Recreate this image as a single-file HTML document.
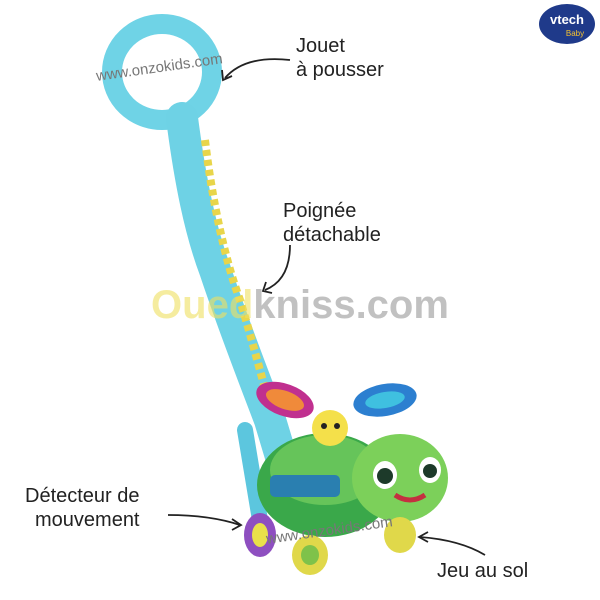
<!DOCTYPE html>
<html><head><meta charset="utf-8"><style>
body{margin:0;background:#fff;}
svg{display:block}
text{font-family:"Liberation Sans",sans-serif;}
</style></head><body>
<svg width="600" height="600" viewBox="0 0 600 600" xmlns="http://www.w3.org/2000/svg">
<rect width="600" height="600" fill="#fff"/>
<ellipse cx="162" cy="72" rx="50" ry="48" fill="none" stroke="#6fd3e6" stroke-width="20"/>
<path d="M182 118 C190 180 200 230 215 270 C235 330 255 380 270 420 L285 470" fill="none" stroke="#6ed2e5" stroke-width="32" stroke-linecap="round"/>
<path d="M205 140 C212 200 225 260 240 300 C252 340 260 370 268 400" fill="none" stroke="#e8d54a" stroke-width="8" stroke-dasharray="6 4"/>
<path d="M245 430 L260 520" stroke="#5cc6de" stroke-width="16" stroke-linecap="round"/>
<ellipse cx="285" cy="400" rx="30" ry="16" fill="#c0308f" transform="rotate(20 285 400)"/>
<ellipse cx="285" cy="400" rx="20" ry="9" fill="#f08a3a" transform="rotate(20 285 400)"/>
<ellipse cx="385" cy="400" rx="32" ry="16" fill="#2c7fd0" transform="rotate(-10 385 400)"/>
<ellipse cx="385" cy="400" rx="20" ry="8" fill="#3fc0e0" transform="rotate(-10 385 400)"/>
<ellipse cx="325" cy="485" rx="68" ry="52" fill="#3aa84a"/>
<ellipse cx="325" cy="470" rx="55" ry="35" fill="#66c45a"/>
<rect x="270" y="475" width="70" height="22" rx="5" fill="#2a7fb0"/>
<circle cx="330" cy="428" r="18" fill="#f4e04a"/>
<circle cx="324" cy="426" r="3" fill="#222"/><circle cx="337" cy="426" r="3" fill="#222"/>
<ellipse cx="400" cy="478" rx="48" ry="44" fill="#7cd05a"/>
<ellipse cx="385" cy="475" rx="12" ry="14" fill="#fff"/><circle cx="385" cy="476" r="8" fill="#1d3a2a"/>
<ellipse cx="430" cy="470" rx="11" ry="13" fill="#fff"/><circle cx="430" cy="471" r="7" fill="#1d3a2a"/>
<path d="M395 495 Q410 505 425 495" stroke="#c43040" stroke-width="5" fill="none"/>
<ellipse cx="260" cy="535" rx="16" ry="22" fill="#8e4fc0"/><ellipse cx="260" cy="535" rx="8" ry="12" fill="#e9e04a"/>
<ellipse cx="310" cy="555" rx="18" ry="20" fill="#e0d84a"/><ellipse cx="310" cy="555" rx="9" ry="10" fill="#7fc24a"/>
<ellipse cx="400" cy="535" rx="16" ry="18" fill="#e0d84a"/>
<text x="300" y="318" font-size="40" font-weight="bold" text-anchor="middle" opacity=".6"><tspan fill="#f0e060">Oued</tspan><tspan fill="#999">kniss.com</tspan></text>
<text x="160" y="72" font-size="15" fill="#777" transform="rotate(-8 160 72)" text-anchor="middle" font-family="Liberation Serif">www.onzokids.com</text>
<text x="330" y="535" font-size="15" fill="#777" transform="rotate(-8 330 535)" text-anchor="middle" font-family="Liberation Serif">www.onzokids.com</text>
<ellipse cx="567" cy="24" rx="28" ry="20" fill="#1f3a8a"/>
<text x="567" y="24" font-size="13" font-weight="bold" fill="#fff" text-anchor="middle">vtech</text>
<text x="575" y="36" font-size="8" fill="#f4c030" text-anchor="middle">Baby</text>
<g font-size="20" fill="#222">
<text x="296" y="52">Jouet</text>
<text x="296" y="76">à pousser</text>
<text x="283" y="217">Poignée</text>
<text x="283" y="241">détachable</text>
<text x="25" y="502">Détecteur de</text>
<text x="35" y="526">mouvement</text>
<text x="437" y="577">Jeu au sol</text>
</g>
<g fill="none" stroke="#222" stroke-width="1.8">
<path d="M290 60 Q245 55 225 78"/><path d="M222 70 L223 80 L232 76"/>
<path d="M290 245 Q290 280 265 290"/><path d="M266 282 L263 291 L272 293"/>
<path d="M168 515 Q210 515 240 525"/><path d="M232 519 L241 525 L232 530"/>
<path d="M485 555 Q460 540 420 537"/><path d="M428 532 L419 537 L428 542"/>
</g>
</svg>
</body></html>
